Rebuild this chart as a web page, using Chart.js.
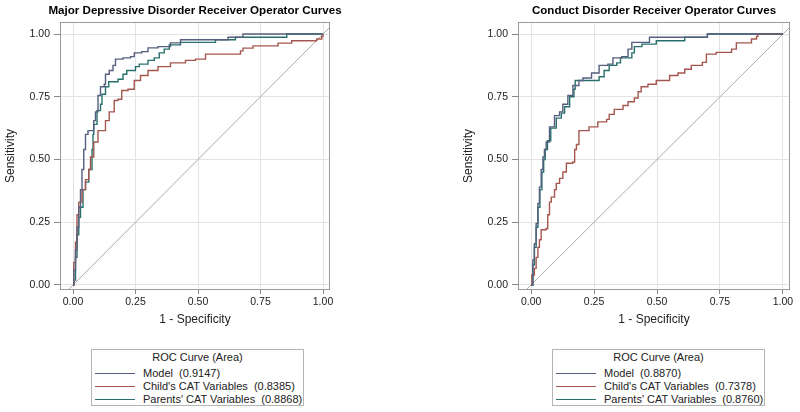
<!DOCTYPE html>
<html lang="en">
<head>
    <meta charset="UTF-8">
    <title>Receiver Operator Curves</title>
    <script src="https://cdn.jsdelivr.net/npm/chart.js"></script>
    <style>
        body {
            margin: 0;
            background: #fff;
            font-family: "Liberation Sans", Arial, sans-serif;
        }
        #wrap {
            position: relative;
            width: 800px;
            height: 412px;
            overflow: hidden;
        }
        canvas {
            position: absolute;
            top: 0;
        }
        .legend {
            position: absolute;
            top: 349px;
            width: 213px;
            height: 57px;
            border: 1px solid #b4b4b4;
            box-sizing: border-box;
            font-size: 11px;
            color: #222;
        }
        .legend .lt {
            text-align: center;
            line-height: 13px;
            padding-top: 1px;
            margin-bottom: 3px;
        }
        .legend .row {
            position: relative;
            line-height: 13px;
            padding-left: 51px;
            white-space: pre;
        }
        .legend .sw {
            position: absolute;
            left: 3px;
            top: 6px;
            width: 40px;
            height: 1px;
        }
    </style>
</head>
<body>
<div id="wrap">
    <canvas id="mddChart" width="400" height="330" style="left:0"></canvas>
    <canvas id="cdChart" width="342" height="330" style="left:458px"></canvas>
    <div class="legend" id="mddLegend" style="left:91px"></div>
    <div class="legend" id="cdLegend" style="left:552px"></div>
</div>
<script>
    // series names + areas (legend)
    const seriesNames = ['Model', "Child's CAT Variables", "Parents' CAT Variables"];
    const seriesColors = ['#56607e', '#a5574f', '#28706d'];
    const mddAuc = ['0.9147', '0.8385', '0.8868'];
    const cdAuc = ['0.8870', '0.7378', '0.8760'];
    const tickValues = [0, 0.25, 0.5, 0.75, 1];
    const tickLabels = ['0.00', '0.25', '0.50', '0.75', '1.00'];

    // ROC points [1 - specificity, sensitivity]
    const mddModel = [[0,0],[0.003,0.06],[0.01,0.14],[0.016,0.23],[0.023,0.31],[0.03,0.38],[0.036,0.46],[0.043,0.54],
        [0.05,0.60],[0.06,0.615],[0.083,0.655],[0.09,0.69],[0.10,0.755],[0.11,0.79],[0.125,0.80],[0.13,0.84],
        [0.145,0.855],[0.16,0.875],[0.17,0.90],[0.20,0.905],[0.23,0.91],[0.245,0.925],[0.275,0.93],[0.30,0.945],
        [0.34,0.95],[0.39,0.965],[0.43,0.977],[0.62,0.987],[0.68,1],[1,1]];
    const mddChild = [[0,0],[0.003,0.09],[0.01,0.17],[0.016,0.28],[0.023,0.33],[0.036,0.38],[0.05,0.42],[0.063,0.46],
        [0.07,0.51],[0.083,0.57],[0.10,0.615],[0.13,0.655],[0.145,0.69],[0.165,0.735],[0.18,0.74],[0.195,0.775],
        [0.22,0.78],[0.245,0.815],[0.27,0.835],[0.30,0.855],[0.34,0.87],[0.39,0.885],[0.45,0.895],[0.49,0.90],
        [0.53,0.92],[0.67,0.933],[0.68,0.944],[0.72,0.953],[0.82,0.964],[0.875,0.973],[0.975,0.98],[0.995,0.99],[1,1]];
    const mddParents = [[0,0],[0.003,0.02],[0.01,0.11],[0.016,0.20],[0.023,0.27],[0.03,0.31],[0.04,0.38],[0.05,0.41],
        [0.063,0.46],[0.076,0.54],[0.08,0.60],[0.083,0.64],[0.096,0.695],[0.11,0.72],[0.116,0.76],[0.13,0.79],
        [0.143,0.81],[0.18,0.82],[0.20,0.84],[0.215,0.855],[0.25,0.87],[0.265,0.88],[0.30,0.895],[0.325,0.905],
        [0.345,0.925],[0.365,0.94],[0.385,0.957],[0.43,0.967],[0.57,0.977],[0.65,0.987],[0.855,1],[1,1]];

    const cdModel = [[0,0],[0.007,0.10],[0.013,0.165],[0.02,0.245],[0.027,0.325],[0.033,0.39],[0.04,0.46],[0.047,0.51],
        [0.053,0.54],[0.06,0.57],[0.073,0.63],[0.093,0.675],[0.113,0.69],[0.126,0.72],[0.146,0.755],[0.166,0.795],
        [0.19,0.815],[0.206,0.825],[0.24,0.845],[0.27,0.875],[0.305,0.88],[0.325,0.905],[0.36,0.91],[0.385,0.94],
        [0.40,0.967],[0.47,0.987],[0.70,1],[1,1]];
    const cdChild = [[0,0],[0.003,0.04],[0.013,0.066],[0.02,0.11],[0.027,0.15],[0.033,0.18],[0.04,0.22],[0.06,0.225],
        [0.066,0.28],[0.073,0.33],[0.08,0.35],[0.093,0.38],[0.10,0.405],[0.113,0.425],[0.126,0.45],[0.14,0.485],
        [0.166,0.49],[0.173,0.54],[0.18,0.56],[0.19,0.615],[0.23,0.63],[0.265,0.65],[0.30,0.66],[0.31,0.68],
        [0.33,0.70],[0.365,0.715],[0.385,0.73],[0.41,0.745],[0.425,0.77],[0.437,0.79],[0.464,0.80],[0.497,0.815],
        [0.55,0.835],[0.583,0.845],[0.61,0.86],[0.636,0.875],[0.68,0.887],[0.696,0.92],[0.735,0.927],[0.796,0.94],
        [0.815,0.965],[0.875,0.98],[0.895,0.99],[0.90,1],[1,1]];
    const cdParents = [[0,0],[0.007,0.08],[0.013,0.15],[0.02,0.23],[0.027,0.31],[0.035,0.38],[0.043,0.45],[0.05,0.50],
        [0.056,0.54],[0.065,0.575],[0.078,0.625],[0.10,0.665],[0.12,0.685],[0.133,0.71],[0.153,0.75],[0.17,0.78],
        [0.175,0.815],[0.27,0.83],[0.29,0.855],[0.31,0.875],[0.34,0.885],[0.355,0.905],[0.40,0.925],[0.41,0.95],
        [0.44,0.96],[0.497,0.973],[0.61,0.987],[0.70,1],[1,1]];

    const diagonal = [[-0.1,-0.1],[1.1,1.1]];

    // little plugin: full frame round the plot + title centred on the plot
    const framePlugin = {
        id: 'frame',
        afterDraw(chart, args, opts) {
            const {ctx, chartArea: a} = chart;
            ctx.save();
            ctx.strokeStyle = '#9a9a9a';
            ctx.lineWidth = 1;
            ctx.strokeRect(a.left + 0.5, a.top + 0.5, a.width - 1, a.height - 1);
            ctx.fillStyle = '#000';
            ctx.font = 'bold 11.6px "Liberation Sans", Arial, sans-serif';
            ctx.textAlign = 'center';
            ctx.textBaseline = 'middle';
            ctx.fillText(opts.text, (a.left + a.right) / 2, 11);
            ctx.restore();
        }
    };

    function toXY(pts) {
        return pts.map(p => ({x: p[0], y: p[1]}));
    }

    function makeChart(id, title, series, rightPad) {
        const datasets = series.map((s, i) => ({
            label: seriesNames[i],
            data: toXY(s),
            borderColor: seriesColors[i],
            borderWidth: 1.4,
            pointRadius: 0,
            stepped: 'before',
            clip: 0
        }));
        datasets.push({
            label: 'diag',
            data: toXY(diagonal),
            borderColor: '#aaaaaa',
            borderWidth: 1,
            pointRadius: 0,
            clip: 0
        });
        const tickFont = {family: '"Liberation Sans", Arial, sans-serif', size: 10.5};
        const titleFont = {family: '"Liberation Sans", Arial, sans-serif', size: 12};
        return new Chart(document.getElementById(id), {
            type: 'line',
            data: {datasets: datasets},
            plugins: [framePlugin],
            options: {
                responsive: false,
                animation: false,
                layout: {padding: {top: 22, right: rightPad, bottom: 0, left: 0}},
                plugins: {
                    legend: {display: false},
                    tooltip: {enabled: false},
                    frame: {text: title}
                },
                scales: {
                    x: {
                        type: 'linear',
                        min: -0.052,
                        max: 1.028,
                        afterFit: s => { s.height = 40; },
                        afterBuildTicks: s => { s.ticks = tickValues.map(v => ({value: v})); },
                        grid: {color: '#e3e3e3', tickColor: '#888', tickLength: 4},
                        border: {display: false},
                        ticks: {
                            font: tickFont, color: '#222', padding: 2, maxRotation: 0,
                            callback: v => tickLabels[tickValues.indexOf(v)]
                        },
                        title: {display: true, text: '1 - Specificity', font: titleFont, color: '#222',
                            padding: {top: 0, bottom: 3}}
                    },
                    y: {
                        type: 'linear',
                        min: -0.02,
                        max: 1.048,
                        afterFit: s => { s.width = 60; },
                        afterBuildTicks: s => { s.ticks = tickValues.map(v => ({value: v})); },
                        grid: {color: '#e3e3e3', tickColor: '#888', tickLength: 6},
                        border: {display: false},
                        ticks: {
                            font: tickFont, color: '#222', padding: 4,
                            callback: v => tickLabels[tickValues.indexOf(v)]
                        },
                        title: {display: true, text: 'Sensitivity', font: titleFont, color: '#222',
                            padding: {top: 3, bottom: 0}}
                    }
                }
            }
        });
    }

    function makeLegend(id, auc) {
        const box = document.getElementById(id);
        let html = '<div class="lt">ROC Curve (Area)</div>';
        seriesNames.forEach((n, i) => {
            html += '<div class="row"><span class="sw" style="background:' + seriesColors[i] + '"></span>' +
                n + '  (' + auc[i] + ')</div>';
        });
        box.innerHTML = html;
    }

    makeChart('mddChart', 'Major Depressive Disorder Receiver Operator Curves', [mddModel, mddChild, mddParents], 70);
    makeChart('cdChart', 'Conduct Disorder Receiver Operator Curves', [cdModel, cdChild, cdParents], 10);
    makeLegend('mddLegend', mddAuc);
    makeLegend('cdLegend', cdAuc);
</script>
</body>
</html>
